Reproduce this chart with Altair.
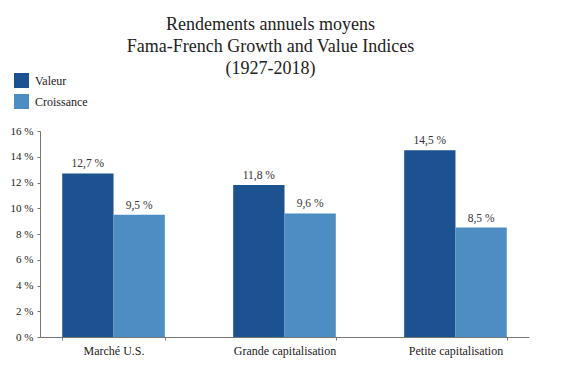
import altair as alt
import pandas as pd

categories = ["Marché U.S.", "Grande capitalisation", "Petite capitalisation"]
series = ["Valeur", "Croissance"]
valeur = [12.7, 11.8, 14.5]
croissance = [9.5, 9.6, 8.5]
y_ticks = [0, 2, 4, 6, 8, 10, 12, 14, 16]
colors = ["#1C5290", "#4E8CC4"]

rows = []
for c, v, g in zip(categories, valeur, croissance):
    for s, val in zip(series, [v, g]):
        rows.append({"cat": c, "serie": s, "val": val,
                     "label": f"{val:.1f}".replace(".", ",") + " %"})
df = pd.DataFrame(rows)

FONT = "Liberation Serif"

x = alt.X("cat:N", sort=categories, title=None,
          scale=alt.Scale(paddingInner=0.4, paddingOuter=0.13),
          axis=alt.Axis(labelAngle=0, labelFont=FONT, labelFontSize=12,
                        labelColor="#222", labelPadding=5, domainColor="#777",
                        tickColor="#777", tickSize=3, tickBand="extent"))
xo = alt.XOffset("serie:N", sort=series,
                 scale=alt.Scale(paddingInner=0, paddingOuter=0))

yaxis = alt.Axis(values=y_ticks, labelExpr="datum.value + ' %'",
                 grid=False, labelFont=FONT, labelFontSize=11,
                 labelColor="#222", domainColor="#777",
                 tickColor="#777", tickSize=3, labelPadding=4,
                 labelOverlap=False, labelBound=False)
y = alt.Y("val:Q", title=None, scale=alt.Scale(domain=[0, 16], nice=False),
          axis=yaxis)

base = alt.Chart(df).encode(x=x, xOffset=xo, y=y)

bars = base.mark_bar().encode(
    color=alt.Color("serie:N", sort=series,
                    scale=alt.Scale(domain=series, range=colors),
                    legend=alt.Legend(title=None, orient="none",
                                      legendX=-26, legendY=-58,
                                      symbolType="square", symbolSize=225,
                                      symbolStrokeWidth=0, labelFont=FONT,
                                      labelFontSize=12, labelColor="#222",
                                      rowPadding=6, labelOffset=6)),
)

texts = base.mark_text(baseline="bottom", dy=-4, font=FONT, fontSize=11.5,
                       color="#333").encode(text="label:N")

chart = (bars + texts).properties(
    width=489, height=206,
    autosize=alt.AutoSizeParams(type="none"),
    padding={"left": 32, "top": 123, "right": 36, "bottom": 30},
    title=alt.TitleParams(
        ["Rendements annuels moyens", "Fama-French Growth and Value Indices",
         "(1927-2018)"],
        font=FONT, fontSize=18, fontWeight="normal", color="#222",
        anchor="middle", dx=-14, offset=-5, lineHeight=22),
).configure_view(stroke=None)

chart.save("out.html", embed_options={"renderer": "svg", "actions": False})
